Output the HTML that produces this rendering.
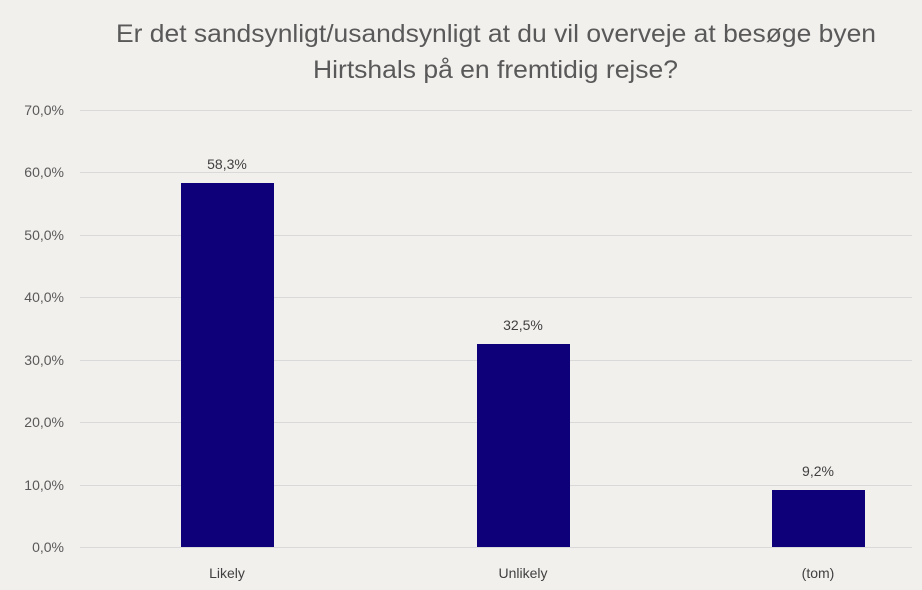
<!DOCTYPE html>
<html><head><meta charset="utf-8"><style>
body{margin:0;background:#f2f0ed;}
svg{display:block;font-family:"Liberation Sans",sans-serif;}
</style></head><body>
<svg width="922" height="590" viewBox="0 0 922 590">
<rect width="922" height="590" fill="#f2f0ed"/>
<text x="116" y="42" font-size="25" fill="#595959" textLength="760" lengthAdjust="spacingAndGlyphs">Er det sandsynligt/usandsynligt at du vil overveje at besøge byen</text>
<text x="313" y="78" font-size="25" fill="#595959" textLength="365" lengthAdjust="spacingAndGlyphs">Hirtshals på en fremtidig rejse?</text>
<g stroke="#d9d9d9" stroke-width="1">
<line x1="80" x2="912" y1="110.5" y2="110.5"/>
<line x1="80" x2="912" y1="172.5" y2="172.5"/>
<line x1="80" x2="912" y1="235.5" y2="235.5"/>
<line x1="80" x2="912" y1="297.5" y2="297.5"/>
<line x1="80" x2="912" y1="360.5" y2="360.5"/>
<line x1="80" x2="912" y1="422.5" y2="422.5"/>
<line x1="80" x2="912" y1="485.5" y2="485.5"/>
<line x1="80" x2="912" y1="547.5" y2="547.5"/>
</g>
<g font-size="14" fill="#595959" text-anchor="end">
<text x="64" y="115">70,0%</text>
<text x="64" y="177">60,0%</text>
<text x="64" y="240">50,0%</text>
<text x="64" y="302">40,0%</text>
<text x="64" y="365">30,0%</text>
<text x="64" y="427">20,0%</text>
<text x="64" y="490">10,0%</text>
<text x="64" y="552">0,0%</text>
</g>
<g fill="#0e0078">
<rect x="181" y="183" width="93" height="364"/>
<rect x="477" y="344" width="93" height="203"/>
<rect x="772" y="490" width="93" height="57"/>
</g>
<g font-size="14" fill="#404040" text-anchor="middle">
<text x="227" y="169">58,3%</text>
<text x="523" y="330">32,5%</text>
<text x="818" y="476">9,2%</text>
</g>
<g font-size="14" fill="#404040" text-anchor="middle">
<text x="227" y="578">Likely</text>
<text x="523" y="578">Unlikely</text>
<text x="818" y="578">(tom)</text>
</g>
</svg>
</body></html>
